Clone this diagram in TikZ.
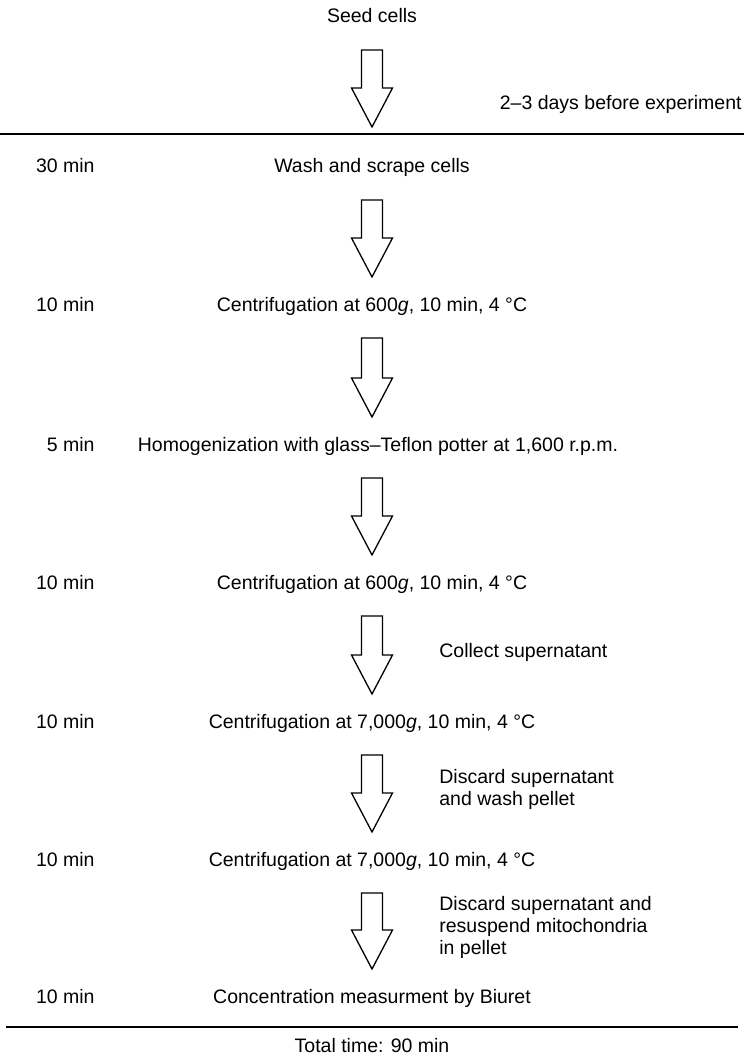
\documentclass[tikz,border=0pt]{standalone}
\usepackage{fontspec}
\setmainfont{Liberation Sans}
\usetikzlibrary{calc}

\tikzset{
  every node/.style={font=\fontsize{9.75}{11}\selectfont, inner sep=0pt},
  stage/.style={anchor=base},
  time/.style={anchor=base east},
  note/.style={anchor=west, align=left},
  hollow/.style={line width=0.65pt, line join=miter},
  rule/.style={line width=1.25pt}
}

% hollow block arrow from #1 (top of shaft) down to #2 (tip)
\newcommand{\hollowarrow}[2]{%
  \draw[hollow] let \p1=#1, \p2=#2 in
    (\x2-5.25pt,\y1) -- (\x2-5.25pt,\y2+19.5pt) -- (\x2-10.25pt,\y2+19.5pt) -- (\x2,\y2)
    -- (\x2+10.25pt,\y2+19.5pt) -- (\x2+5.25pt,\y2+19.5pt) -- (\x2+5.25pt,\y1) -- cycle;}

\begin{document}
\begin{tikzpicture}[x=0.5pt, y=-0.5pt]
    \useasboundingbox (0,0) rectangle (744,1059);

    % Before the experiment
    \node[stage] (seed) at (372,23) {Seed cells};
    \node[anchor=base east] (days) at (742,110) {2--3 days before experiment};
    \coordinate (ruleL) at (0,134);
    \coordinate (ruleR) at (744,134);
    \draw[rule] (ruleL) -- (ruleR);
    \hollowarrow{([yshift=-13.5pt]seed.base)}{($(ruleL)!0.5!(ruleR)+(0,3.5pt)$)}

    % Steps
    \node[stage] (wash) at (372,173) {Wash and scrape cells};
    \node[stage] (spin1) at (372,311) {Centrifugation at 600\textit{g}, 10 min, 4 °C};
    \node[stage] (homog) at (378,451) {Homogenization with glass--Teflon potter at 1,600 r.p.m.};
    \node[stage] (spin2) at (372,589) {Centrifugation at 600\textit{g}, 10 min, 4 °C};
    \node[stage] (spin3) at (372,728) {Centrifugation at 7,000\textit{g}, 10 min, 4 °C};
    \node[stage] (spin4) at (372,866) {Centrifugation at 7,000\textit{g}, 10 min, 4 °C};
    \node[stage] (biuret) at (372,1003) {Concentration measurment by Biuret};

    % Times
    \node[time] (t1) at (95,173) {30 min};
    \node[time] (t2) at (95,311) {10 min};
    \node[time] (t3) at (95,451) {5 min};
    \node[time] (t4) at (95,589) {10 min};
    \node[time] (t5) at (95,728) {10 min};
    \node[time] (t6) at (95,866) {10 min};
    \node[time] (t7) at (95,1003) {10 min};

    % Arrows between steps
    \foreach \a/\b in {wash/spin1, spin1/homog, homog/spin2, spin2/spin3, spin3/spin4, spin4/biuret}
      {\hollowarrow{([yshift=-13.5pt]\a.base-|seed.base)}{([yshift=17pt]\b.base-|seed.base)}}

    % Side notes
    \node[note] (collect) at (439,652) {Collect supernatant};
    \node[note] (wash2) at (439,789) {Discard supernatant\\and wash pellet};
    \node[note] (resusp) at (439,927) {Discard supernatant and\\resuspend mitochondria\\in pellet};

    % Total
    \draw[rule] (6,1027) -- (738,1027);
    \node[stage] (total) at (372,1052) {Total time: 90 min};
\end{tikzpicture}
\end{document}
